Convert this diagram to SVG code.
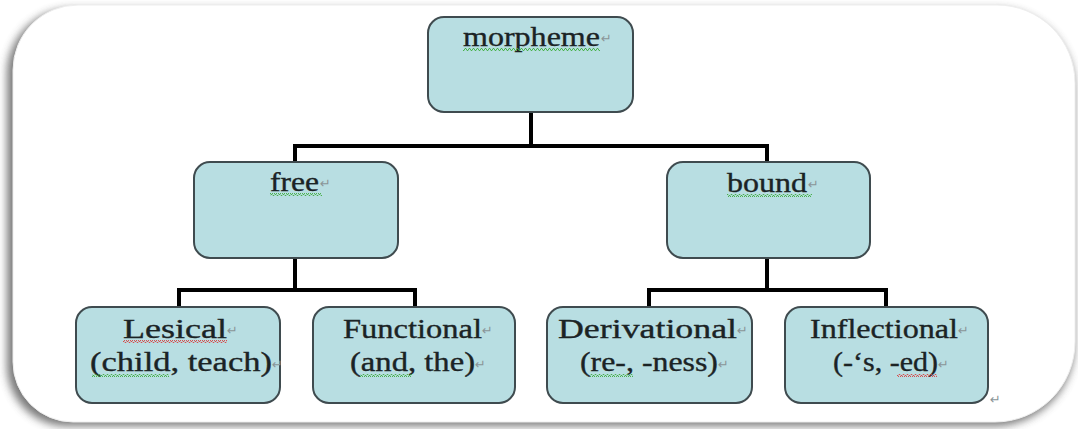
<svg xmlns="http://www.w3.org/2000/svg" width="1078" height="429" viewBox="0 0 1078 429">
<style>
.box{fill:#b8dee2;stroke:#3f4b4f;stroke-width:2}
.lbl{font-family:"Liberation Serif","Times New Roman",serif;font-size:27px;fill:#1b2325;stroke:#1b2325;stroke-width:0.35}
.pm{font-family:"DejaVu Sans",sans-serif;font-size:13px;fill:#8a9598}
.conn{fill:none;stroke:#000;stroke-width:4}
.wg{fill:url(#waveG)}
.wr{fill:url(#waveR)}
</style>
<defs>
<filter id="sh" x="-5%" y="-10%" width="110%" height="120%">
<feGaussianBlur stdDeviation="4"/>
</filter>
<pattern id="waveG" width="4" height="3" patternUnits="userSpaceOnUse">
<polyline points="0,2.5 1,0.5 2,0.5 3,2.5 4,2.5" fill="none" stroke="#3fae3f" stroke-width="0.9"/>
</pattern>
<pattern id="waveR" width="4" height="3" patternUnits="userSpaceOnUse">
<polyline points="0,2.5 1,0.5 2,0.5 3,2.5 4,2.5" fill="none" stroke="#d94040" stroke-width="0.9"/>
</pattern>
</defs>
<rect width="1078" height="429" fill="#ffffff"/>
<g id="frame">
<path d="M 74 9 H 996 A 78 78 0 0 1 1074 87 V 344 A 80 80 0 0 1 994 426 H 67 A 60 60 0 0 1 7 366 V 74 A 65 65 0 0 1 74 9 Z" fill="#6a6a6a" filter="url(#sh)" opacity="0.9"/>
<path d="M 78 5 H 997 A 78 78 0 0 1 1075 83 V 342 A 80 80 0 0 1 995 422 H 73 A 60 60 0 0 1 13 362 V 70 A 65 65 0 0 1 78 5 Z" fill="#ffffff" stroke="#eeeeee" stroke-width="1"/>
</g>
<g id="connectors">
<polyline class="conn" points="531,112 531,146"/>
<polyline class="conn" points="295,162 295,146 767,146 767,162"/>
<polyline class="conn" points="295,258 295,290"/>
<polyline class="conn" points="179,307 179,290 415,290 415,307"/>
<polyline class="conn" points="767,258 767,290"/>
<polyline class="conn" points="649,307 649,290 886,290 886,307"/>
</g>
<g id="morpheme">
<rect class="box" x="428" y="17" width="205" height="95" rx="16"/>
<text class="lbl" x="463" y="46" textLength="137" lengthAdjust="spacingAndGlyphs">morpheme</text>
<text class="pm" x="601" y="43">↵</text>
<rect class="wg" x="463" y="48" width="137" height="3"/>
</g>
<g id="free">
<rect class="box" x="194" y="162" width="204" height="96" rx="16"/>
<text class="lbl" x="270" y="191" textLength="49" lengthAdjust="spacingAndGlyphs">free</text>
<text class="pm" x="320" y="188">↵</text>
<rect class="wg" x="270" y="193" width="52" height="3"/>
</g>
<g id="bound">
<rect class="box" x="667" y="162" width="203" height="96" rx="16"/>
<text class="lbl" x="727" y="192" textLength="80" lengthAdjust="spacingAndGlyphs">bound</text>
<text class="pm" x="808" y="189">↵</text>
<rect class="wg" x="727" y="194" width="85" height="3"/>
</g>
<g id="lesical">
<rect class="box" x="76" y="307" width="204" height="96" rx="16"/>
<text class="lbl" x="123" y="338" textLength="104" lengthAdjust="spacingAndGlyphs">Lesical</text>
<text class="pm" x="227" y="335">↵</text>
<rect class="wr" x="123" y="340" width="104" height="3"/>
<text class="lbl" x="90" y="371" textLength="182" lengthAdjust="spacingAndGlyphs">(child, teach)</text>
<text class="pm" x="272" y="369" font-size="9">↵</text>
<rect class="wg" x="92" y="374" width="77" height="3"/>
</g>
<g id="functional">
<rect class="box" x="313" y="307" width="202" height="96" rx="16"/>
<text class="lbl" x="343" y="338" textLength="139" lengthAdjust="spacingAndGlyphs">Functional</text>
<text class="pm" x="482" y="335">↵</text>
<text class="lbl" x="350" y="371" textLength="125" lengthAdjust="spacingAndGlyphs">(and, the)</text>
<text class="pm" x="475" y="369">↵</text>
<rect class="wg" x="360" y="374" width="52" height="3"/>
</g>
<g id="derivational">
<rect class="box" x="547" y="307" width="205" height="96" rx="16"/>
<text class="lbl" x="558" y="338" textLength="179" lengthAdjust="spacingAndGlyphs">Derivational</text>
<text class="pm" x="737" y="335">↵</text>
<text class="lbl" x="580" y="371" textLength="138" lengthAdjust="spacingAndGlyphs">(re-, -ness)</text>
<text class="pm" x="718" y="369">↵</text>
<rect class="wg" x="590" y="374" width="43" height="3"/>
</g>
<g id="inflectional">
<rect class="box" x="785" y="307" width="203" height="96" rx="16"/>
<text class="lbl" x="810" y="338" textLength="148" lengthAdjust="spacingAndGlyphs">Inflectional</text>
<text class="pm" x="958" y="335">↵</text>
<text class="lbl" x="833" y="371" textLength="105" lengthAdjust="spacingAndGlyphs">(-‘s, -ed)</text>
<text class="pm" x="938" y="369">↵</text>
<rect class="wr" x="897" y="374" width="40" height="3"/>
</g>
<text class="pm" x="990" y="404">↵</text>
</svg>
